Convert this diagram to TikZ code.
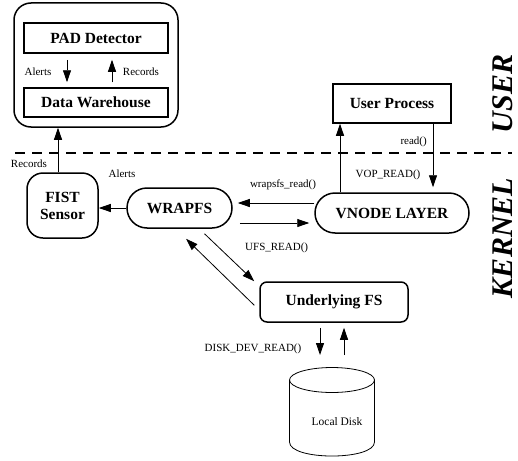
\documentclass[tikz,border=0pt]{standalone}
\usepackage{fontspec}
\setmainfont{Liberation Serif}
\usetikzlibrary{arrows.meta}
\begin{document}
\begin{tikzpicture}[x=1pt,y=-1pt,
  box/.style={draw, line width=1.5pt, inner sep=0pt,
    font=\fontsize{15.5}{17}\selectfont\bfseries},
  lbl/.style={inner sep=0pt, font=\fontsize{11}{13}\selectfont},
  arr/.style={-{Triangle[length=12pt,width=8pt]}, line width=0.8pt},
  side/.style={rotate=90, inner sep=0pt,
    font=\fontsize{30}{32}\selectfont\bfseries\itshape}]
\useasboundingbox (0,0) rectangle (518,460);

% user space boxes
\node[box, rounded corners=17pt, minimum width=164pt, minimum height=124pt] (site) at (96,65) {};
\node[box, minimum width=144pt, minimum height=30pt] (pad) at (96,38) {PAD Detector};
\node[box, minimum width=144pt, minimum height=29pt] (dw) at (96,102.5) {Data Warehouse};
\node[box, minimum width=118pt, minimum height=39pt] (user) at (392,103.5) {User Process};

% kernel boxes
\node[box, rounded corners=16pt, minimum width=71pt, minimum height=65pt, align=center] (fist) at (62.5,205.5) {FIST\\Sensor};
\node[box, rounded corners=20pt, minimum width=105pt, minimum height=40pt] (wrap) at (179.5,208) {WRAPFS};
\node[box, rounded corners=20pt, minimum width=154pt, minimum height=40pt] (vnode) at (392,213) {VNODE LAYER};
\node[box, rounded corners=7pt, minimum width=148pt, minimum height=40pt] (ufs) at (334,302) {Underlying FS};

% local disk cylinder
\draw[line width=0.8pt] (332,380) ellipse [x radius=42.5pt, y radius=12.5pt];
\draw[line width=0.8pt] (289.5,380) -- (289.5,442)
  .. controls (289.5,460.7) and (374.5,460.7) .. (374.5,442) -- (374.5,380);
\node[lbl, font=\fontsize{11.5}{13}\selectfont] (disk) at (337,422) {Local Disk};
\coordinate (dk) at (332,355);

% user / kernel boundary
\draw[line width=1.5pt, dash pattern=on 10pt off 7pt] (15,153) -- (512,153);
\node[side] (userlbl) at (503,94) {USER};
\node[side] (kernlbl) at (503,238) {KERNEL};

% helper positions for parallel connectors
\coordinate (xA) at (67,0);
\coordinate (xR) at (112,0);
\coordinate (xF) at (58,0);
\coordinate (xV) at (340,0);
\coordinate (xD) at (433,0);
\coordinate (yU) at (0,203);
\coordinate (yL) at (0,223);

% connectors
\draw[arr, shorten <=6pt, shorten >=5pt] (pad.south -| xA) -- (dw.north -| xA);
\draw[arr, shorten <=5pt, shorten >=6pt] (dw.north -| xR) -- (pad.south -| xR);
\draw[arr] (fist.north -| xF) -- (site.south -| xF);
\draw[arr] (wrap.west) -- (wrap.west -| fist.east);
\draw[arr, shorten >=5pt] (vnode.west |- yU) -- (wrap.east |- yU);
\draw[arr, shorten <=7pt, shorten >=5pt] (wrap.east |- yL) -- (vnode.west |- yL);
\draw[arr] (vnode.north -| xV) -- (user.south -| xV);
\draw[arr, shorten >=5pt] (user.south -| xD) -- (vnode.north -| xD);
\draw[arr] ([shift={(25,5)}]wrap.south) -- ([shift={(-5,0)}]ufs.north west);
\draw[arr] ([shift={(-5,24)}]ufs.north west) -- ([shift={(6.5,10)}]wrap.south);
\draw[arr] ([shift={(-14,5)}]ufs.south) -- ([shift={(-12,0)}]dk);
\draw[arr] ([shift={(12,0)}]dk) -- ([shift={(10,5)}]ufs.south);

% connector labels
\node[lbl] (lalert) at (38,72) {Alerts};
\node[lbl] (lrec) at (141,72) {Records};
\node[lbl] (lrec2) at (29,164) {Records};
\node[lbl] (lalert2) at (122,174) {Alerts};
\node[lbl] (lwr) at (283,185) {wrapsfs\_read()};
\node[lbl, anchor=east] (lread) at (427,142) {read()};
\node[lbl] (lvop) at (388,175) {VOP\_READ()};
\node[lbl, anchor=west] (lufs) at (245,248) {UFS\_READ()};
\node[lbl] (ldisk) at (253,349) {DISK\_DEV\_READ()};
\end{tikzpicture}
\end{document}
